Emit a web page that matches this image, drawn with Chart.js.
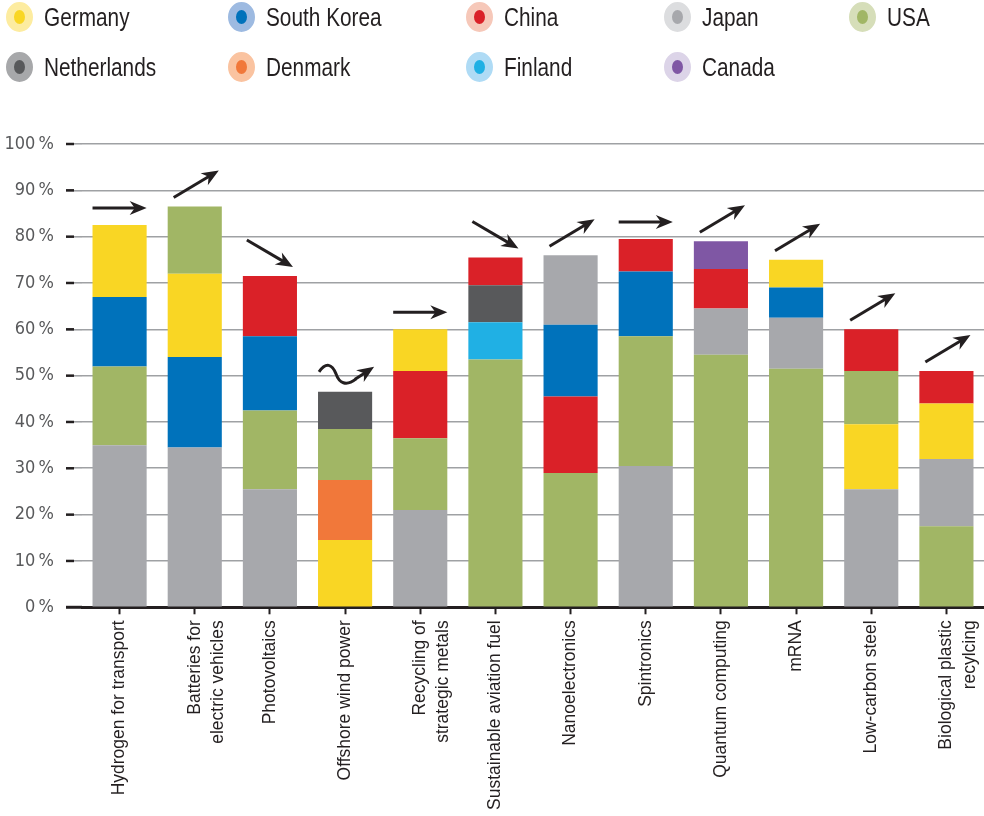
<!DOCTYPE html>
<html>
<head>
<meta charset="utf-8">
<title>Technology leadership by country</title>
<script src="https://cdn.jsdelivr.net/npm/chart.js@4.4.1/dist/chart.umd.min.js"></script>
<style>
  html, body { margin: 0; padding: 0; background: #fff; }
  #wrap { position: relative; width: 984px; height: 816px; overflow: hidden; }
  #chart { position: absolute; left: 0; top: 0; }
  #legend {
    position: absolute; left: 6px; top: 2px;
    display: grid;
    grid-template-columns: 222px 238px 198px 185px auto;
    grid-auto-rows: 50px;
    font-family: 'Liberation Sans', Arial, sans-serif;
    font-size: 26px; color: #231F20;
  }
  .item { display: flex; align-items: center; height: 30px; white-space: nowrap; }
  .dot {
    width: 11px; height: 14px; border-radius: 50%;
    border: 8px solid transparent; flex: none;
  }
  .item span.txt {
    margin-left: 11px;
    display: inline-block;
    transform: scaleX(0.8);
    transform-origin: left center;
  }
</style>
</head>
<body>
<div id="wrap">
  <canvas id="chart" width="984" height="816"></canvas>
  <div id="legend"></div>
</div>
<script>
// ─── Data ───
const categories = [
  'Hydrogen for transport',
  ['Batteries for', 'electric vehicles'],
  'Photovoltaics',
  'Offshore wind power',
  ['Recycling of', 'strategic metals'],
  'Sustainable aviation fuel',
  'Nanoelectronics',
  'Spintronics',
  'Quantum computing',
  'mRNA',
  'Low-carbon steel',
  ['Biological plastic', 'recylcing']
];

const countries = ['Germany', 'South Korea', 'China', 'Japan', 'USA', 'Netherlands', 'Denmark', 'Finland', 'Canada'];

// share in %, one entry per technology (null = not among the leaders)
const germany     = [15.5, 18,   null, 14.5, 9,    null, null, null, null, 6,    14,   12];
const southKorea  = [15,   19.5, 16,   null, null, null, 15.5, 14,   null, 6.5,  null, null];
const china       = [null, null, 13,   null, 14.5, 6,    16.5, 7,    8.5,  null, 9,    7];
const japan       = [35,   34.5, 25.5, null, 21,   null, 15,   30.5, 10,   11,   25.5, 14.5];
const usa         = [17,   14.5, 17,   11,   15.5, 53.5, 29,   28,   54.5, 51.5, 11.5, 17.5];
const netherlands = [null, null, null, 8,    null, 8,    null, null, null, null, null, null];
const denmark     = [null, null, null, 13,   null, null, null, null, null, null, null, null];
const finland     = [null, null, null, null, null, 8,    null, null, null, null, null, null];
const canada      = [null, null, null, null, null, null, null, null, 6,    null, null, null];

// segment order in each bar, bottom to top
const stackOrder = [
  ['Japan', 'USA', 'South Korea', 'Germany'],
  ['Japan', 'South Korea', 'Germany', 'USA'],
  ['Japan', 'USA', 'South Korea', 'China'],
  ['Germany', 'Denmark', 'USA', 'Netherlands'],
  ['Japan', 'USA', 'China', 'Germany'],
  ['USA', 'Finland', 'Netherlands', 'China'],
  ['USA', 'China', 'South Korea', 'Japan'],
  ['Japan', 'USA', 'South Korea', 'China'],
  ['USA', 'Japan', 'China', 'Canada'],
  ['USA', 'Japan', 'South Korea', 'Germany'],
  ['Japan', 'Germany', 'USA', 'China'],
  ['USA', 'Japan', 'Germany', 'China']
];

// trend marker drawn above each bar
const trend = ['flat', 'up', 'down', 'wavy', 'flat', 'down', 'up', 'flat', 'up', 'up', 'up', 'up'];

const yTicks = [0, 10, 20, 30, 40, 50, 60, 70, 80, 90, 100];

// ─── Styles ───
const series = {
  'Germany': germany, 'South Korea': southKorea, 'China': china, 'Japan': japan, 'USA': usa,
  'Netherlands': netherlands, 'Denmark': denmark, 'Finland': finland, 'Canada': canada
};

const fill = {
  'Germany': '#F9D624', 'South Korea': '#0072BB', 'China': '#DA2128', 'Japan': '#A7A8AC',
  'USA': '#A1B665', 'Netherlands': '#58595B', 'Denmark': '#F1783A', 'Finland': '#20B0E4', 'Canada': '#7F57A4'
};
const halo = {
  'Germany': '#FDECA0', 'South Korea': '#9DBAE1', 'China': '#F6C8B9', 'Japan': '#DCDDDF',
  'USA': '#D6DEB9', 'Netherlands': '#A7A8AA', 'Denmark': '#FAC3A0', 'Finland': '#AFDBF5', 'Canada': '#DCD4E8'
};

const INK = '#231F20';
const GRID = '#9FA1A4';
const NARROW = "'DejaVu Sans Condensed', 'Liberation Sans Narrow', 'Arial Narrow', sans-serif";

// ─── Legend ───
document.getElementById('legend').innerHTML = countries.map(c => `
  <div class="item">
    <span class="dot" style="background:${fill[c]};border-color:${halo[c]}"></span>
    <span class="txt">${c}</span>
  </div>`).join('');

// ─── Datasets: one per stack layer, coloured per bar ───
const layers = stackOrder[0].length;
const datasets = [];
for (let k = 0; k < layers; k++) {
  datasets.push({
    label: 'layer ' + (k + 1),
    data: categories.map((_, i) => series[stackOrder[i][k]][i]),
    backgroundColor: categories.map((_, i) => fill[stackOrder[i][k]]),
    countryOf: categories.map((_, i) => stackOrder[i][k]),
    borderWidth: 0,
    categoryPercentage: 1,
    barPercentage: 0.72
  });
}

// ─── Helpers ───
function arrowTo(ctx, x0, y0, x1, y1) {
  const a = Math.atan2(y1 - y0, x1 - x0);
  const L = 17, W = 7;
  const cos = Math.cos(a), sin = Math.sin(a);
  ctx.beginPath();
  ctx.moveTo(x0, y0);
  ctx.lineTo(x1 - cos * L * 0.6, y1 - sin * L * 0.6);
  ctx.stroke();
  ctx.beginPath();
  ctx.moveTo(x1, y1);
  ctx.lineTo(x1 - cos * L - sin * W, y1 - sin * L + cos * W);
  ctx.lineTo(x1 - cos * L * 0.7, y1 - sin * L * 0.7);
  ctx.lineTo(x1 - cos * L + sin * W, y1 - sin * L - cos * W);
  ctx.closePath();
  ctx.fill();
}

const trendArrows = {
  id: 'trendArrows',
  afterDatasetsDraw(chart) {
    const ctx = chart.ctx;
    const meta = chart.getDatasetMeta(chart.data.datasets.length - 1);
    meta.data.forEach((bar, i) => {
      const { x, y, width } = bar.getProps(['x', 'y', 'width'], true);
      const l = x - width / 2, r = x + width / 2;
      ctx.save();
      ctx.strokeStyle = INK;
      ctx.fillStyle = INK;
      ctx.lineWidth = 3;
      switch (trend[i]) {
        case 'flat':
          arrowTo(ctx, l, y - 17, r, y - 17);
          break;
        case 'up':
          arrowTo(ctx, l + 6, y - 9, r - 3, y - 36);
          break;
        case 'down':
          arrowTo(ctx, l + 4, y - 36, r - 4, y - 9);
          break;
        case 'wavy':
          ctx.beginPath();
          ctx.moveTo(l + 1, y - 20);
          ctx.bezierCurveTo(l + 8, y - 30, l + 14, y - 28, l + 18, y - 18);
          ctx.bezierCurveTo(l + 21, y - 9, l + 28, y - 5, l + 38, y - 13);
          ctx.stroke();
          arrowTo(ctx, l + 37, y - 12.5, r + 2, y - 25);
          break;
      }
      ctx.restore();
    });
  }
};

// dark stubs on the y ticks, left of the gridlines
const tickStubs = {
  id: 'tickStubs',
  afterDraw(chart) {
    const ctx = chart.ctx;
    const yScale = chart.scales.y;
    const left = chart.chartArea.left;
    ctx.save();
    yScale.ticks.forEach(t => {
      const py = yScale.getPixelForValue(t.value);
      ctx.strokeStyle = INK;
      ctx.lineWidth = t.value === 0 ? 3 : 2.5;
      ctx.beginPath();
      ctx.moveTo(left - 16, py);
      ctx.lineTo(t.value === 0 ? left : left - 8, py);
      ctx.stroke();
    });
    ctx.restore();
  }
};

// ─── Chart ───
new Chart(document.getElementById('chart'), {
  type: 'bar',
  data: { labels: categories, datasets },
  options: {
    responsive: false,
    animation: false,
    layout: { padding: { top: 144, right: 0, bottom: 0, left: 0 } },
    plugins: {
      legend: { display: false },
      tooltip: {
        callbacks: {
          label: c => `${c.dataset.countryOf[c.dataIndex]}: ${c.parsed.y} %`
        }
      }
    },
    scales: {
      x: {
        stacked: true,
        // let the last two-line label run to the canvas edge
        afterFit: s => { s.paddingLeft = 0; s.paddingRight = 0; },
        border: { display: true, color: INK, width: 3 },
        grid: {
          display: true, drawOnChartArea: false, drawTicks: true, offset: false,
          tickLength: 7, tickColor: INK, tickWidth: 2
        },
        ticks: {
          minRotation: 90, maxRotation: 90, autoSkip: false, padding: 6,
          color: INK,
          font: { family: "'Liberation Sans', Arial, sans-serif", size: 17.5, lineHeight: 1.33 }
        }
      },
      y: {
        stacked: true,
        min: yTicks[0],
        max: yTicks[yTicks.length - 1],
        afterFit: s => { s.width = 82; },
        afterBuildTicks: s => { s.ticks = yTicks.map(v => ({ value: v })); },
        border: { display: false },
        grid: { color: GRID, lineWidth: 1.6, tickLength: 16, tickColor: GRID, tickWidth: 1.6 },
        ticks: {
          padding: 12,
          color: '#58595B',
          font: { family: NARROW, size: 18 },
          callback: v => v + '\u2009%'
        }
      }
    }
  },
  plugins: [trendArrows, tickStubs]
});
</script>
</body>
</html>
